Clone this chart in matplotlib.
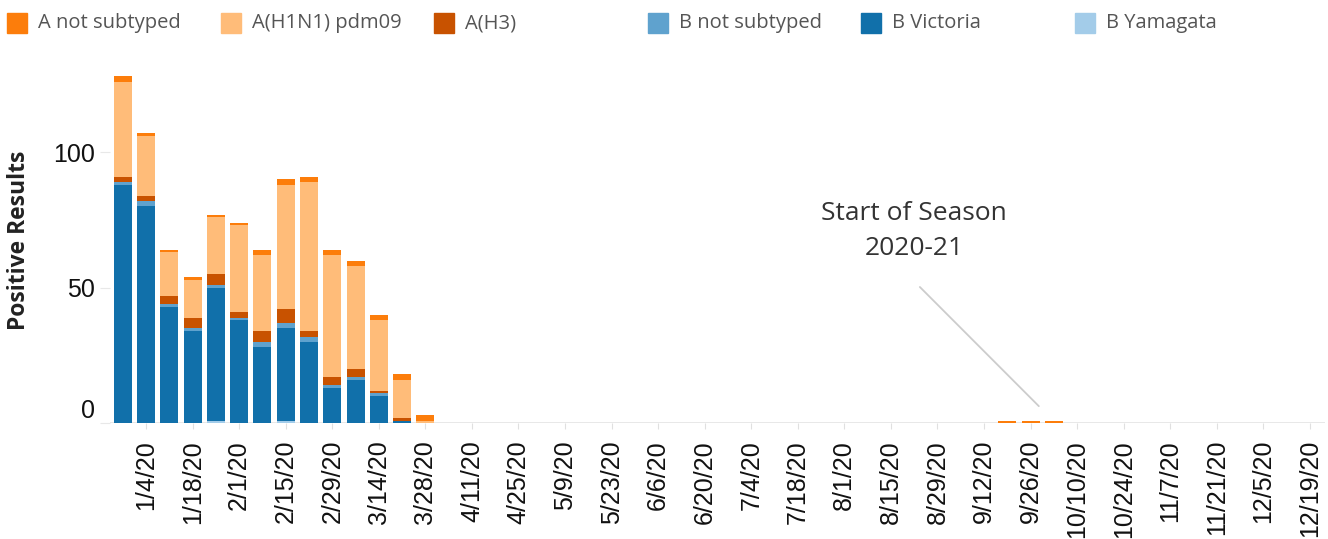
import numpy as np
import pandas as pd
import matplotlib
matplotlib.use("Agg")
import matplotlib.pyplot as plt
from matplotlib.patches import Rectangle
from matplotlib.transforms import ScaledTranslation

# weekly bins, 12/28/19 .. 12/19/20 (52 weeks)
weeks = pd.date_range("2019-12-28", periods=52, freq="7D")

# counts per week (season part + fall part)
b_yamagata = [0, 0, 0, 0, 1, 0, 0, 1, 0, 0, 0, 0, 0, 0] + [0] * 38
b_victoria = [88, 80, 43, 34, 49, 38, 28, 34, 30, 13, 16, 10, 1, 0] + [0] * 38
b_not_sub = [1, 2, 1, 1, 1, 1, 2, 2, 2, 1, 1, 1, 0, 0] + [0] * 38
a_h3 = [2, 2, 3, 4, 4, 2, 4, 5, 2, 3, 3, 1, 1, 0] + [0] * 38
a_h1n1 = [35, 22, 16, 14, 21, 32, 28, 46, 55, 45, 38, 26, 14, 1] + [0] * 38
a_not_sub = [2, 1, 1, 1, 1, 1, 2, 2, 2, 2, 2, 2, 2, 2] + [0] * 24 + [1, 1, 1] + [0] * 11

series = [
    ("B Yamagata", b_yamagata, "#a3cce9"),
    ("B Victoria", b_victoria, "#1170aa"),
    ("B not subtyped", b_not_sub, "#5fa2ce"),
    ("A(H3)", a_h3, "#c85200"),
    ("A(H1N1) pdm09", a_h1n1, "#ffbc79"),
    ("A not subtyped", a_not_sub, "#fc7d0b"),
]
legend_order = ["A not subtyped", "A(H1N1) pdm09", "A(H3)",
                "B not subtyped", "B Victoria", "B Yamagata"]

W, H = 1328, 539
fig = plt.figure(figsize=(W / 100, H / 100), dpi=100)
ax = fig.add_axes([110 / W, 1 - 423.3 / H, (1325 - 110) / W, (423.3 - 60) / H])

x = np.arange(len(weeks))
bottom = np.zeros(len(weeks))
for name, vals, color in series:
    vals = np.asarray(vals, dtype=float)
    ax.bar(x, vals, bottom=bottom, width=0.77, color=color, linewidth=0)
    bottom += vals

ax.set_xlim(-0.55, 51.65)
ax.set_ylim(0, 134)
ax.axhline(0, color="#e4e4e4", lw=1.2, zorder=0)

for s in ax.spines.values():
    s.set_visible(False)

tick_pos = x[1::2]
ax.set_xticks(tick_pos)
ax.set_xticklabels([f"{d.month}/{d.day}/{d.strftime('%y')}" for d in weeks[1::2]],
                   rotation=90, fontsize=18, family="Liberation Sans", color="#111111")
ax.tick_params(axis="x", length=4, color="#e0e0e0", pad=8)

ax.set_yticks([0, 50, 100])
ax.set_yticklabels(["0", "50", "100"], fontsize=18, family="Liberation Sans", color="#111111")
ax.tick_params(axis="y", length=7, color="#e8e8e8", pad=4)
zero_lbl = ax.get_yticklabels()[0]
zero_lbl.set_transform(zero_lbl.get_transform() + ScaledTranslation(0, 15 / 100, fig.dpi_scale_trans))

fig.text(19 / W, 1 - 240 / H, "Positive Results", rotation=90, ha="center", va="center",
         fontsize=16.5, fontweight="bold", family="Open Sans", color="#222222")

# annotation
ax.annotate("", xy=(39.44, 5.6), xytext=(34.16, 51.0),
            arrowprops=dict(arrowstyle="-", color="#cccccc", lw=1.3))
ax.text(33.99, 71, "Start of Season\n2020-21", ha="center", va="center",
        fontsize=19, family="Open Sans", color="#333333", linespacing=1.5)

# legend, evenly spaced columns
colors = {n: c for n, _, c in series}
for i, name in enumerate(legend_order):
    x0 = 7 + 213.6 * i
    fig.patches.append(Rectangle((x0 / W, 1 - 33 / H), 20 / W, 20 / H,
                                 transform=fig.transFigure, color=colors[name]))
    fig.text((x0 + 31) / W, 1 - 23 / H, name, ha="left", va="center",
             fontsize=14.5, family="Open Sans", color="#555555")

fig.savefig("out.png", dpi=100)
